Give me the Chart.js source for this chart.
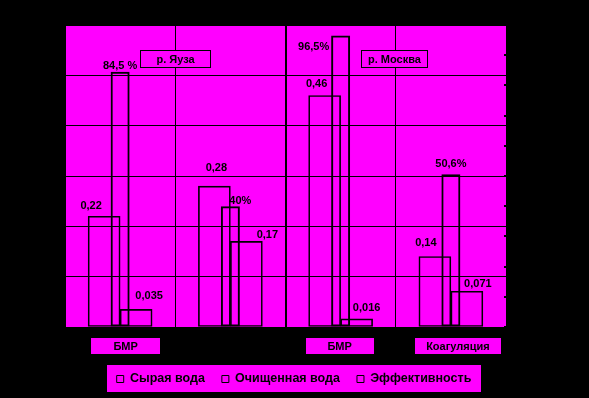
<!DOCTYPE html>
<html>
<head>
<meta charset="utf-8">
<script src="https://cdn.jsdelivr.net/npm/chart.js@4.4.1/dist/chart.umd.min.js"></script>
<style>
  html, body { margin: 0; padding: 0; background: #000; }
  canvas { display: block; }
</style>
</head>
<body>
<canvas id="myChart" width="589" height="398"></canvas>
<script>
// data
const categories = ['БМР', '', 'БМР', 'Коагуляция'];
const rawWater = [0.22, 0.28, 0.46, 0.14];
const cleanWater = [0.035, 0.17, 0.016, 0.071];
const efficiency = [84.5, 40, 96.5, 50.6];
const effSuffix = [' %', '%', '%', '%'];
const seriesNames = ['Сырая вода', 'Очищенная вода', 'Эффективность'];
const rivers = ['р. Яуза', 'р. Москва'];
const leftMax = 0.6, leftStep = 0.1;
const rightMax = 100, rightStep = 10;

// label nudges (px) relative to bar centre / top, per dataset
const labelDx = [[-13, 2, -8, -9], [13, 21, 10, 11], [0, 10, -27, 0]];
const labelDy = [[-10, -18, -11, -14], [-13, -6, -11, -7], [-6, -5, 11, -10]];
// category label boxes: shift from category centre, width
const catShift = [5.5, 0, -1, 7];
const catBoxW = [69, 0, 68, 86];

const MAGENTA = '#ff00ff';
const FONT = '"Liberation Sans", Arial, sans-serif';
Chart.defaults.font.family = FONT;
Chart.defaults.font.weight = 'bold';
Chart.defaults.color = '#000';

function fmt(v) {
  return String(v).replace('.', ',');
}

const decor = {
  id: 'decor',
  beforeDraw(chart) {
    const ctx = chart.ctx;
    const a = chart.chartArea;
    ctx.save();
    ctx.fillStyle = MAGENTA;
    ctx.fillRect(a.left, a.top, a.right - a.left, a.bottom - a.top);
    const lg = chart.legend;
    const cx = (lg.left + lg.right) / 2;
    ctx.fillRect(cx - 187, 365, 374, 27);
    // category labels under the plot
    const x = chart.scales.x;
    ctx.font = 'bold 11px ' + FONT;
    ctx.textAlign = 'center';
    ctx.textBaseline = 'middle';
    categories.forEach(function (c, i) {
      if (!c) return;
      const px = x.getPixelForValue(i) + catShift[i];
      ctx.fillStyle = MAGENTA;
      ctx.fillRect(Math.round(px - catBoxW[i] / 2), a.bottom + 11, catBoxW[i], 16);
      ctx.fillStyle = '#000';
      ctx.fillText(c, px, a.bottom + 19.5);
    });
    ctx.restore();
  },
  afterDatasetsDraw(chart) {
    const ctx = chart.ctx;
    const a = chart.chartArea;
    const x = chart.scales.x;
    const y1 = chart.scales.y1;
    ctx.save();
    // small inward ticks of the right (percent) axis
    ctx.fillStyle = '#000';
    y1.ticks.forEach(function (t) {
      if (t.value >= rightMax) return;
      ctx.fillRect(a.right - 2, Math.round(y1.getPixelForValue(t.value)) - 1, 2, 2);
    });
    ctx.font = 'bold 11px ' + FONT;
    ctx.textAlign = 'center';
    ctx.textBaseline = 'middle';
    // river boxes
    const boxes = [[x.getPixelForValue(0.5), 70], [x.getPixelForValue(2.5) - 2, 66]];
    boxes.forEach(function (b, i) {
      const l = Math.round(b[0] - b[1] / 2) + 0.5;
      const t = a.top + 25.5;
      ctx.fillStyle = MAGENTA;
      ctx.fillRect(l, t, b[1], 17);
      ctx.strokeStyle = '#000';
      ctx.lineWidth = 1;
      ctx.strokeRect(l, t, b[1], 17);
      ctx.fillStyle = '#000';
      ctx.fillText(rivers[i], l + b[1] / 2, t + 9);
    });
    // value labels
    for (let d = 0; d < 3; d++) {
      const meta = chart.getDatasetMeta(d);
      meta.data.forEach(function (bar, i) {
        let txt;
        if (d === 0) txt = fmt(rawWater[i]);
        else if (d === 1) txt = fmt(cleanWater[i]);
        else txt = fmt(efficiency[i]) + effSuffix[i];
        ctx.fillText(txt, bar.x + labelDx[d][i], bar.y + labelDy[d][i]);
      });
    }
    ctx.restore();
  }
};

const config = {
  type: 'bar',
  data: {
    labels: categories,
    datasets: [{
      label: seriesNames[0],
      data: rawWater,
      yAxisID: 'y',
      backgroundColor: 'rgba(0,0,0,0)',
      borderColor: '#000',
      borderWidth: 1,
      borderSkipped: false,
      barThickness: 32
    }, {
      label: seriesNames[1],
      data: cleanWater,
      yAxisID: 'y',
      backgroundColor: 'rgba(0,0,0,0)',
      borderColor: '#000',
      borderWidth: 1,
      borderSkipped: false,
      barThickness: 32
    }, {
      label: seriesNames[2],
      data: efficiency,
      yAxisID: 'y1',
      grouped: false,
      maxBarThickness: 19,
      backgroundColor: 'rgba(0,0,0,0)',
      borderColor: '#000',
      borderWidth: 2,
      borderSkipped: false
    }]
  },
  options: {
    responsive: false,
    animation: false,
    layout: { padding: { left: 65, right: 66, top: 25, bottom: 2.75 } },
    scales: {
      x: {
        grid: {
          color: '#000',
          lineWidth: function (c) { return c.index === 2 ? 2 : 1; },
          drawTicks: false
        },
        border: { display: false },
        ticks: { display: false },
        afterFit: function (scale) { scale.height = 28.75; }
      },
      y: {
        min: 0,
        max: leftMax,
        ticks: { display: false, stepSize: leftStep },
        grid: { color: '#000', drawTicks: false },
        border: { display: false }
      },
      y1: {
        position: 'right',
        min: 0,
        max: rightMax,
        ticks: { display: false, stepSize: rightStep },
        grid: { drawOnChartArea: false, color: '#000', tickLength: 17 },
        border: { display: false }
      }
    },
    plugins: {
      tooltip: { enabled: false },
      legend: {
        position: 'bottom',
        labels: {
          boxWidth: 7,
          boxHeight: 7,
          padding: 17,
          color: '#000',
          font: { size: 12.5, weight: 'bold' },
          generateLabels: function (chart) {
            const items = Chart.defaults.plugins.legend.labels.generateLabels(chart);
            items.forEach(function (it) { it.lineWidth = 1; });
            return items;
          }
        }
      }
    }
  },
  plugins: [decor]
};

const myChart = new Chart(document.getElementById('myChart'), config);
</script>
</body>
</html>
